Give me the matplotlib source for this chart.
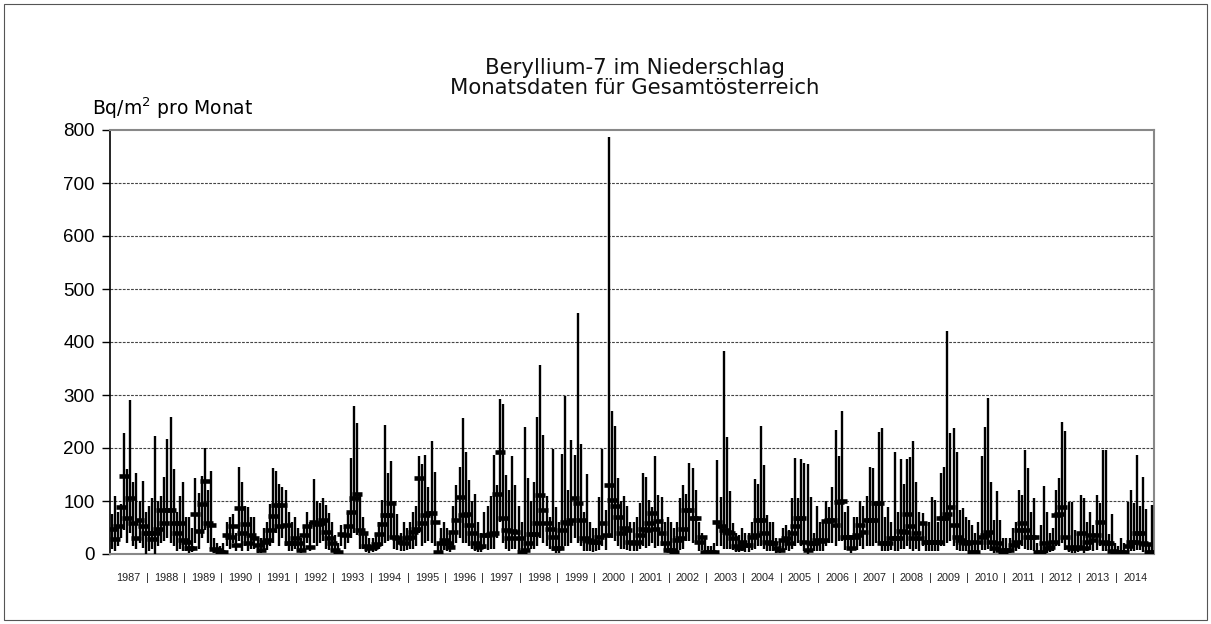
import matplotlib
matplotlib.use("Agg")
import matplotlib.pyplot as plt
from matplotlib.patches import Rectangle
import numpy as np

years = list(range(1987, 2015))

# monthly maximum per year (Bq/m2 per month)
max_vals = [
    [75, 110, 80, 95, 229, 160, 290, 136, 152, 100, 138, 80],      # 1987
    [90, 105, 223, 100, 110, 146, 217, 259, 160, 80, 110, 135],    # 1988
    [70, 70, 50, 144, 115, 147, 200, 120, 157, 30, 20, 15],        # 1989
    [20, 60, 70, 75, 40, 164, 135, 90, 89, 70, 70, 30],            # 1990
    [30, 50, 60, 94, 163, 157, 133, 127, 121, 80, 60, 70],         # 1991
    [50, 30, 55, 79, 60, 141, 100, 97, 105, 92, 77, 60],           # 1992
    [35, 20, 55, 50, 80, 182, 280, 248, 110, 70, 40, 30],          # 1993
    [30, 40, 60, 102, 243, 152, 176, 100, 75, 40, 60, 50],         # 1994
    [60, 80, 90, 185, 169, 186, 127, 214, 155, 20, 50, 60],        # 1995
    [50, 40, 90, 130, 165, 256, 193, 140, 100, 113, 60, 40],       # 1996
    [80, 90, 110, 187, 130, 292, 283, 149, 120, 184, 130, 90],     # 1997
    [60, 240, 143, 100, 135, 258, 357, 224, 110, 70, 199, 89],     # 1998
    [60, 188, 299, 120, 216, 187, 455, 208, 80, 151, 60, 50],      # 1999
    [50, 108, 198, 83, 787, 270, 242, 143, 100, 110, 90, 60],      # 2000
    [60, 70, 96, 153, 146, 102, 89, 185, 111, 108, 60, 70],        # 2001
    [60, 50, 60, 105, 130, 114, 171, 162, 121, 60, 40, 30],        # 2002
    [15, 15, 20, 177, 108, 383, 221, 118, 58, 40, 35, 50],         # 2003
    [40, 40, 60, 141, 132, 242, 168, 74, 60, 60, 30, 25],          # 2004
    [50, 55, 45, 106, 182, 105, 179, 172, 170, 108, 39, 91],       # 2005
    [60, 60, 100, 89, 127, 234, 184, 269, 80, 90, 30, 70],         # 2006
    [70, 100, 90, 110, 165, 163, 94, 231, 237, 70, 89, 60],        # 2007
    [193, 80, 180, 132, 180, 183, 213, 136, 80, 78, 60, 60],       # 2008
    [108, 102, 60, 153, 164, 420, 229, 238, 193, 83, 86, 70],      # 2009
    [64, 55, 40, 60, 184, 240, 294, 136, 64, 118, 65, 30],         # 2010
    [30, 30, 50, 60, 121, 111, 196, 162, 80, 105, 20, 55],         # 2011
    [128, 80, 40, 50, 121, 143, 250, 232, 99, 99, 45, 40],         # 2012
    [111, 105, 60, 80, 55, 111, 96, 197, 197, 37, 75, 20],         # 2013
    [15, 30, 20, 99, 121, 96, 187, 91, 145, 85, 20, 92],           # 2014
]

# monthly mean per year
mean_vals = [
    [47, 28, 52, 89, 148, 67, 106, 58, 30, 64, 53, 39],   # 1987
    [39, 28, 39, 47, 83, 58, 83, 83, 58, 39, 58, 26],     # 1988
    [23, 11, 11, 75, 43, 94, 138, 58, 55, 9, 8, 4],       # 1989
    [4, 35, 33, 53, 17, 86, 39, 56, 20, 35, 30, 17],      # 1990
    [8, 22, 26, 45, 72, 92, 53, 92, 55, 20, 20, 30],      # 1991
    [21, 8, 36, 53, 13, 61, 57, 58, 64, 42, 30, 20],      # 1992
    [8, 4, 38, 35, 52, 80, 106, 113, 45, 39, 15, 11],     # 1993
    [13, 19, 38, 57, 74, 74, 97, 33, 30, 23, 20, 31],     # 1994
    [33, 42, 48, 143, 58, 74, 77, 78, 61, 4, 20, 26],     # 1995
    [20, 14, 41, 64, 108, 74, 75, 55, 39, 20, 13, 15],    # 1996
    [36, 36, 38, 39, 114, 192, 67, 45, 30, 44, 42, 30],   # 1997
    [4, 8, 20, 38, 38, 59, 111, 83, 58, 48, 33, 11],      # 1998
    [11, 45, 61, 58, 64, 105, 96, 64, 31, 26, 25, 23],    # 1999
    [23, 33, 58, 36, 130, 102, 91, 69, 40, 50, 45, 23],   # 2000
    [20, 23, 36, 48, 45, 58, 77, 48, 62, 40, 21, 8],      # 2001
    [8, 4, 26, 30, 48, 83, 83, 67, 67, 23, 33, 3],        # 2002
    [4, 4, 4, 61, 52, 45, 42, 39, 30, 15, 11, 23],        # 2003
    [17, 17, 33, 36, 65, 65, 39, 23, 21, 21, 11, 8],      # 2004
    [26, 30, 21, 39, 53, 67, 67, 23, 8, 21, 20, 26],      # 2005
    [25, 26, 63, 64, 65, 55, 99, 100, 33, 33, 11, 33],    # 2006
    [36, 55, 42, 64, 64, 64, 96, 96, 21, 20, 20, 30],     # 2007
    [30, 30, 44, 42, 75, 52, 30, 39, 30, 58, 23, 23],     # 2008
    [23, 23, 23, 67, 67, 75, 89, 55, 33, 26, 23, 20],     # 2009
    [23, 4, 4, 23, 33, 36, 42, 23, 11, 21, 8, 4],         # 2010
    [8, 8, 17, 23, 45, 58, 45, 33, 33, 33, 3, 3],         # 2011
    [20, 11, 14, 23, 74, 75, 89, 33, 14, 11, 11, 14],     # 2012
    [39, 11, 23, 36, 26, 36, 61, 23, 21, 20, 6, 4],       # 2013
    [4, 4, 4, 15, 23, 23, 39, 39, 20, 19, 4, 4],          # 2014
]

# monthly minimum per year
min_vals = [
    [10, 5, 15, 30, 45, 20, 40, 15, 10, 20, 12, 0],   # 1987
    [5, 10, 0, 15, 20, 25, 30, 20, 15, 5, 10, 5],     # 1988
    [5, 2, 3, 20, 10, 30, 45, 20, 10, 2, 1, 0],       # 1989
    [0, 15, 10, 20, 5, 25, 5, 15, 5, 10, 10, 2],      # 1990
    [2, 5, 8, 15, 20, 40, 15, 30, 15, 5, 5, 10],      # 1991
    [5, 2, 10, 20, 5, 20, 15, 20, 25, 10, 8, 5],      # 1992
    [2, 0, 15, 10, 20, 30, 40, 35, 10, 10, 3, 2],     # 1993
    [3, 5, 10, 15, 20, 25, 30, 10, 8, 5, 5, 8],       # 1994
    [10, 10, 15, 40, 15, 20, 25, 20, 15, 0, 5, 8],    # 1995
    [5, 3, 10, 20, 30, 20, 20, 15, 10, 5, 3, 3],      # 1996
    [10, 8, 10, 10, 30, 60, 20, 10, 5, 10, 10, 5],    # 1997
    [0, 0, 5, 10, 10, 15, 30, 20, 15, 10, 5, 2],      # 1998
    [2, 10, 15, 15, 20, 30, 20, 15, 5, 5, 5, 3],      # 1999
    [5, 8, 15, 8, 30, 30, 25, 15, 10, 10, 8, 5],      # 2000
    [5, 5, 10, 15, 12, 15, 20, 12, 15, 15, 5, 3],     # 2001
    [2, 0, 5, 8, 10, 25, 25, 20, 20, 5, 8, 0],        # 2002
    [0, 0, 0, 15, 15, 10, 10, 10, 8, 3, 3, 5],        # 2003
    [3, 3, 8, 10, 15, 15, 10, 5, 5, 5, 2, 2],         # 2004
    [5, 8, 5, 10, 15, 20, 15, 5, 0, 5, 5, 5],         # 2005
    [5, 5, 15, 20, 20, 15, 25, 25, 8, 8, 2, 8],       # 2006
    [8, 15, 10, 15, 15, 15, 20, 20, 5, 5, 5, 8],      # 2007
    [5, 5, 10, 10, 15, 10, 5, 10, 5, 15, 5, 5],       # 2008
    [5, 5, 5, 15, 15, 20, 25, 15, 8, 5, 5, 5],        # 2009
    [5, 0, 0, 5, 8, 8, 10, 5, 2, 5, 2, 0],            # 2010
    [2, 2, 5, 5, 10, 15, 10, 8, 8, 5, 0, 0],          # 2011
    [3, 2, 3, 5, 15, 15, 20, 8, 3, 2, 2, 3],          # 2012
    [8, 2, 5, 8, 5, 8, 15, 5, 5, 5, 0, 0],            # 2013
    [0, 0, 0, 3, 5, 5, 8, 8, 3, 3, 0, 0],             # 2014
]

title = "Beryllium-7 im Niederschlag\nMonatsdaten für Gesamtösterreich"
ylabel = "Bq/m$^{2}$ pro Monat"
yticks = list(range(0, 801, 100))

hi = np.array(max_vals, dtype=float).ravel()
mid = np.array(mean_vals, dtype=float).ravel()
lo = np.array(min_vals, dtype=float).ravel()
n = len(hi)
x = np.arange(n) + 0.5

fig = plt.figure(figsize=(12.11, 6.24), dpi=100)
ax = fig.add_axes([110/1211, 70/624, 1044/1211, 424/624])

ax.vlines(x, lo, hi, color="black", lw=1.7, zorder=3)
ax.hlines(mid, x - 1.6, x + 1.6, color="black", lw=3.3, zorder=4)

ax.set_xlim(0, n)
ax.set_ylim(0, 800)
ax.set_yticks(yticks)
ax.set_yticklabels([str(v) for v in yticks], fontsize=13.5, family="Liberation Sans")
ax.tick_params(axis="y", direction="out", length=6, width=1, pad=5)
ax.set_xticks([])
for v in yticks[1:-1]:
    ax.axhline(v, color="#444444", lw=0.8, ls=(0, (2.5, 1.2)), zorder=1)

ax.spines["left"].set_color("black")
ax.spines["left"].set_linewidth(1.2)
for s in ("top", "right", "bottom"):
    ax.spines[s].set_color("#888888")
    ax.spines[s].set_linewidth(1.5)

# year labels along the bottom
for k, yr in enumerate(years):
    xc = k * 12 + 6
    ax.text(xc, -45, str(yr), ha="center", va="center", fontsize=7.8,
            family="Liberation Sans", color="#222222")
    if k < len(years) - 1:
        ax.text((k + 1) * 12, -45, "|", ha="center", va="center", fontsize=7.8,
                family="Liberation Sans", color="#222222")

fig.text(635/1211, 1 - 78/624, title, ha="center", va="center", fontsize=15.3,
         family="DejaVu Sans", linespacing=0.95, color="#111111")
fig.text(92/1211, 1 - 108/624, ylabel, ha="left", va="center", fontsize=13.5,
         family="DejaVu Sans")

fig.patches.append(Rectangle((4/1211, 4/624), 1 - 8/1211, 1 - 8/624,
                             transform=fig.transFigure, fill=False,
                             edgecolor="#555555", lw=0.8))

fig.savefig("out.png", dpi=100)
